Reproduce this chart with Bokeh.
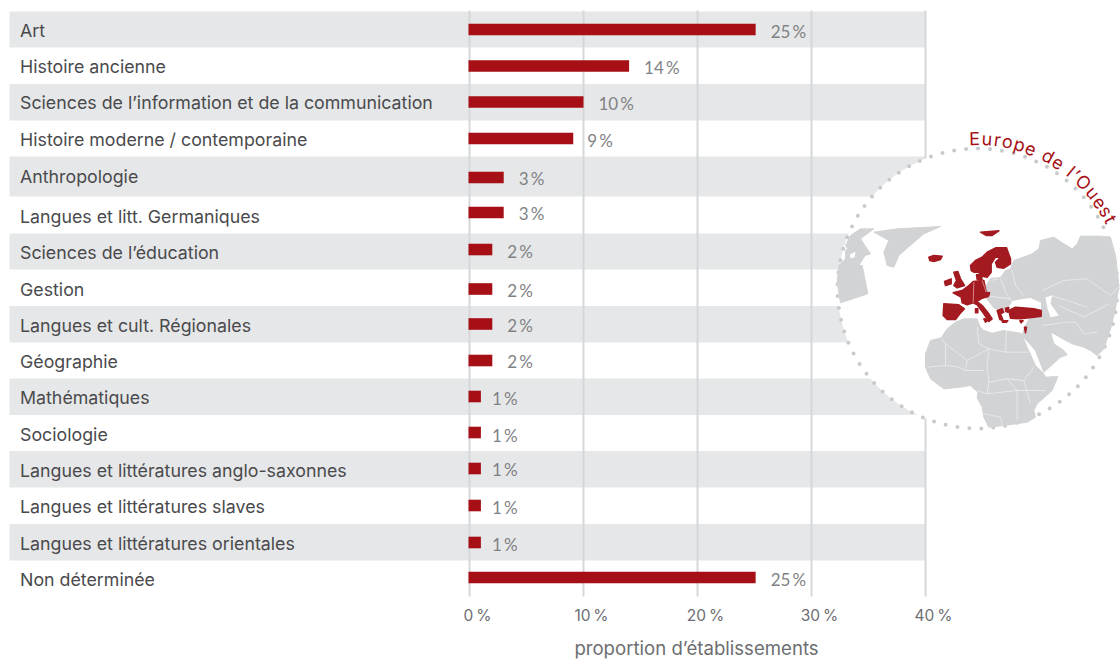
import math
from bokeh.plotting import figure
from bokeh.models import Range1d, FixedTicker, LinearAxis
from bokeh.core.properties import value
from bokeh.embed import file_html
from bokeh.resources import INLINE

categories = ["Art", "Histoire ancienne", "Sciences de l’information et de la communication",
              "Histoire moderne / contemporaine", "Anthropologie", "Langues et litt. Germaniques",
              "Sciences de l’éducation", "Gestion", "Langues et cult. Régionales", "Géographie",
              "Mathématiques", "Sociologie", "Langues et littératures anglo-saxonnes",
              "Langues et littératures slaves", "Langues et littératures orientales", "Non déterminée"]
shares = [25.1, 14.0, 10.0, 9.1, 3.0, 3.0, 2.0, 2.0, 2.0, 2.0, 1.0, 1.0, 1.0, 1.0, 1.0, 25.1]
share_labels = ["25\u2009%", "14\u2009%", "10\u2009%", "9\u2009%", "3\u2009%", "3\u2009%", "2\u2009%", "2\u2009%", "2\u2009%", "2\u2009%",
                "1\u2009%", "1\u2009%", "1\u2009%", "1\u2009%", "1\u2009%", "25\u2009%"]
tick_values = [0, 10, 20, 30, 40]
tick_labels = ["0\u2009%", "10\u2009%", "20\u2009%", "30\u2009%", "40\u2009%"]
axis_title = "proportion d’établissements"

# layout (screen pixels)
bar_y = [29, 65.5, 101.5, 138, 177, 212, 249, 288.5, 323.5, 360, 396, 432, 468, 505, 542, 577]
txt_y = [30, 66, 102, 139, 176, 216, 252, 289, 325, 361, 397, 434, 470, 506, 543, 579]
lab_y = [31, 67, 103, 140, 178, 213, 251, 290, 325, 361, 398, 435, 469, 507, 544, 579]
lab_dx = [15, 15, 15, 14, 15, 15, 15, 15, 15, 15, 11, 11, 11, 11, 11, 15]
band_top = [11, 83.5, 156, 233, 305.5, 378, 450.5, 523.5]
band_bot = [47, 120, 196, 269, 342, 414.5, 487, 560]

RED = "#a50f15"
GRID = "#d6d7d9"
BAND = "#e6e7e8"
LAND = "#d1d3d4"
TXT = "#4a4a4d"
GREY = "#6d6e71"
FONT = "Inter"

p = figure(width=1120, height=659, output_backend="svg", toolbar_location=None,
           x_range=Range1d(-469 / 11.4, (1120 - 469) / 11.4), y_range=Range1d(659, 0),
           x_axis_location=None, y_axis_location=None, min_border=0,
           outline_line_color=None, background_fill_color="white")
p.extra_x_ranges["px"] = Range1d(0, 1120)
p.extra_x_ranges["ticks"] = Range1d(-477 / 11.4, (1120 - 477) / 11.4)
p.ygrid.visible = False
p.xgrid.visible = False

axis = LinearAxis(x_range_name="ticks", ticker=FixedTicker(ticks=tick_values), fixed_location=597)
axis.major_label_overrides = dict(zip(tick_values, tick_labels))
axis.axis_line_color = None
axis.major_tick_line_color = None
axis.minor_tick_line_color = None
axis.major_label_text_font = FONT
axis.major_label_text_font_size = "15.5px"
axis.major_label_text_color = GREY
axis.major_label_standoff = 2
p.add_layout(axis, "below")

p.text(x=[696], y=[647], text=[axis_title], x_range_name="px", text_font=value(FONT),
       text_font_size=value("18.6px"), text_color=GREY, text_align="center", text_baseline="middle")

b = p.quad(left=[9] * len(band_top), right=[925] * len(band_top), top=band_top, bottom=band_bot,
           x_range_name="px", fill_color=BAND, line_color=None)
b.level = "image"

g = p.segment(x0=tick_values, x1=tick_values, y0=[10] * len(tick_values), y1=[596] * len(tick_values),
              line_color=GRID, line_width=2)
g.level = "underlay"

h = 5.8
p.quad(left=[-1 / 11.4] * len(shares), right=shares, top=[y - h for y in bar_y], bottom=[y + h for y in bar_y],
       fill_color=RED, line_color=None)

p.text(x=[19.5] * len(categories), y=txt_y, text=categories, x_range_name="px",
       text_font=value(FONT), text_font_size=value("17.8px"), text_color=TXT,
       text_baseline="middle", text_align="left", text_font_style="normal")
p.text(x=shares, y=lab_y, text=share_labels, x_offset=lab_dx,
       text_font=value("Lato"), text_font_size=value("17px"), text_color="#808285",
       text_baseline="middle", text_align="left")

# ---- globe ----
CX, CY, R = 977, 288, 140
p.scatter([CX], [CY], size=2 * R, x_range_name="px", fill_color="white", line_color=None)
p.scatter([CX], [CY], size=2 * R, x_range_name="px", fill_color=None, line_color="#c9cacc",
          line_width=4, line_dash="0 12", line_cap="round")

def zz(ox, oy, pts):
    return [(ox + a / 3, oy + c / 3) for a, c in pts]
A = lambda pts: zz(920, 215, pts)   # Europe crop
B = lambda pts: zz(920, 310, pts)   # Africa crop
C = lambda pts: zz(1000, 215, pts)  # Asia crop
D = lambda pts: zz(830, 215, pts)   # North Atlantic crop

def draw(shapes):
    return [[q[0] for q in s] for s in shapes], [[q[1] for q in s] for s in shapes]

eurasia = (
    C([(30,160),(40,135),(60,128),(95,115),(115,100),(120,75),(160,65),(190,85),(215,100),(230,85),(240,62),
       (300,62),(330,65),(345,120),(352,180),(355,215),(345,280),(330,340),(310,400),(290,420),(270,405),
       (250,395),(215,385),(190,372),(170,360),(150,350),(160,385),(190,405),(200,418)])
    + B([(420,140),(370,185),(345,120),(305,75),(312,50)])
    + [(1030, 316), (1041, 314), (1041, 302), (1030, 297), (1022, 298), (1012, 300), (1008, 306), (1004, 309),
       (998, 308), (994, 308), (990, 303), (985, 297), (986, 285), (990, 278), (1000, 277), (1005, 270)]
)
land = [
    eurasia,
    B([(105,35),(130,25),(170,25),(178,48),(190,60),(215,68),(250,60),(262,62),(300,68),(305,75),(320,110),
       (345,165),(370,190),(375,200),(412,198),(395,240),(350,280),(340,300),(345,320),(320,335),(250,345),
       (205,350),(190,320),(185,290),(170,262),(172,245),(150,225),(120,230),(70,235),(30,205),(15,170),
       (15,130),(30,90),(62,82),(80,55)]),
    D([(130,50),(200,40),(330,33),(280,55),(245,85),(205,120),(190,155),(170,150),(160,110),(175,75)]),
    D([(45,105),(65,85),(110,110),(85,150),(95,150),(112,235),(30,262),(20,200),(25,150),(45,130)]),
    D([(45,90),(60,60),(90,40),(130,40),(90,70),(120,115),(105,120),(70,95),(55,105)]),
]
xs, ys = draw(land)
p.patches(xs, ys, x_range_name="px", fill_color=LAND, line_color=LAND, line_width=1, line_join="round")

seas = [
    C([(135,245),(155,240),(150,265),(175,300),(150,305),(140,275)]),
    D([(58,118),(75,108),(72,126),(60,128)]),
]
xs, ys = draw(seas)
p.patches(xs, ys, x_range_name="px", fill_color="white", line_color=None)

red_shapes = [
    A([(25,125),(40,120),(65,122),(60,132),(40,138),(28,135)]),
    A([(180,50),(235,46),(215,60),(198,60)]),
    A([(150,150),(165,135),(185,125),(200,110),(225,97),(258,97),(270,130),(270,145),(250,158),(230,155),
       (225,140),(240,125),(225,125),(212,145),(212,170),(200,185),(185,182),(175,170),(160,170),(152,165)]),
    A([(168,178),(182,176),(185,195),(170,192)]),
    A([(100,170),(112,168),(120,190),(132,210),(110,217),(100,210),(108,195)]),
    A([(72,198),(92,190),(92,205),(75,210)]),
    A([(98,232),(125,225),(145,210),(158,198),(190,195),(197,230),(207,232),(205,242),(185,248),(170,258),
       (185,270),(205,295),(215,310),(205,318),(190,295),(170,268),(158,262),(140,268),(125,262),(122,245)]),
    A([(70,265),(115,268),(132,280),(118,295),(105,312),(80,312),(68,300)]),
    A([(165,280),(172,280),(172,292),(165,292)]),
    A([(190,310),(205,312),(195,320)]),
    A([(230,285),(245,280),(250,290),(240,295),(248,315),(238,312)]),
    A([(265,285),(285,275),(340,280),(362,285),(362,302),(340,305),(300,310),(270,308)]),
    A([(255,278),(265,276),(263,290),(256,288)]),
    A([(245,316),(262,316),(258,320),(246,320)]),
    A([(298,316),(308,316),(302,322)]),
    A([(312,335),(318,335),(315,352)]),
]
xs, ys = draw(red_shapes)
p.patches(xs, ys, x_range_name="px", fill_color="#a31a20", line_color="#a31a20", line_width=1.5, line_join="round")

borders = [
    B([(62,85),(75,100),(140,150),(205,115)]),
    B([(75,100),(75,165)]), B([(140,150),(135,180),(190,180)]),
    B([(170,50),(175,100),(205,115),(255,125),(258,60)]), B([(255,125),(325,125)]),
    B([(205,115),(200,170),(205,215),(260,205),(310,210),(340,170)]),
    B([(20,170),(75,165),(115,170),(135,180)]), B([(205,215),(200,250),(170,240)]),
    B([(200,250),(290,240),(320,240),(375,240)]), B([(310,210),(330,280)]),
    B([(290,240),(290,330)]), B([(190,310),(240,320),(245,345)]), B([(260,205),(290,240)]),
    C([(125,225),(190,195),(260,190),(330,240),(355,215)]),
    C([(150,240),(200,255),(260,275)]), C([(175,270),(250,305),(325,265)]),
    C([(225,320),(250,355),(290,350)]), C([(125,330),(200,320),(225,320)]),
    C([(35,165),(45,210),(70,240)]),
    A([(210,195),(235,190)]), A([(240,190),(260,240),(285,270)]), A([(205,242),(270,250)]),
    A([(160,200),(158,262)]), A([(185,195),(197,230)]),
]
xs, ys = draw(borders)
p.multi_line(xs, ys, x_range_name="px", line_color="white", line_width=0.6, line_alpha=0.8)

# curved title
title = "Europe de l’Ouest"
adv = {"E": 11.5, "u": 11.5, "r": 7.5, "o": 11, "p": 11.5, "e": 10.5, " ": 6, "d": 11.5,
       "l": 5, "’": 5, "O": 14.5, "s": 9, "t": 7.5}
RT = 150
pos = -3.4 * math.pi / 180
xs, ys, ang, ch = [], [], [], []
for c in title:
    w = adv[c] * 1.03
    th = pos + (w / 2) / RT
    xs.append(CX + RT * math.sin(th)); ys.append(CY - RT * math.cos(th)); ang.append(-th); ch.append(c)
    pos += (w + 0.7) / RT
p.text(x=xs, y=ys, text=ch, angle=ang, x_range_name="px", text_font=value(FONT),
       text_font_size=value("18px"), text_color=RED, text_align="center", text_baseline="alphabetic")

open("out.html", "w").write(file_html(p, INLINE))
